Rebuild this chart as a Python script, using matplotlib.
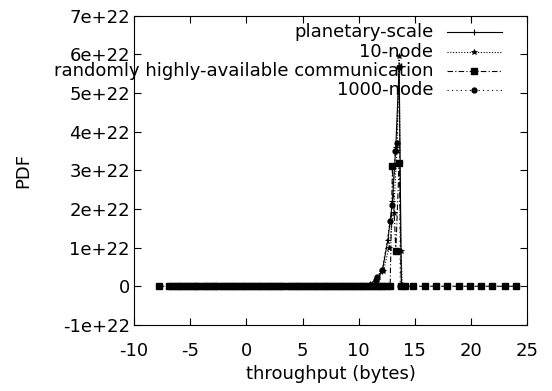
import matplotlib
matplotlib.use("Agg")
import matplotlib.pyplot as plt
from matplotlib.lines import Line2D
from matplotlib.ticker import FuncFormatter, MultipleLocator

plt.rcParams['font.family'] = ['DejaVu Sans']
plt.rcParams['axes.unicode_minus'] = False

# data (y in units of 1e22)
planet_x = [-6.5, -5.0, -3.5, -2.0, -0.5, 1.0, 2.5, 4.0, 5.5, 7.0, 8.5, 10.0, 11.0, 11.6, 12.1, 12.6, 13.0, 13.3, 13.6, 13.8]
planet_y = [0, 0, 0, 0, 0, 0, 0, 0, 0, 0, 0, 0, 0.05, 0.2, 0.4, 1.2, 2.2, 3.6, 5.66, 0]

node10_x = [-6.0, -4.5, -3.0, -1.5, 0.0, 1.5, 3.0, 4.5, 6.0, 7.5, 9.0, 10.5, 11.5, 12.2, 12.7, 13.1, 13.4, 13.6, 13.75, 13.9]
node10_y = [0, 0, 0, 0, 0, 0, 0, 0, 0, 0, 0, 0, 0.1, 0.4, 1.0, 1.9, 3.5, 5.95, 0.9, 0]

rand_x = [-7.8, -6.9, -6.6, -6.3, -6.0, -5.7, -5.4, -5.1, -4.8, -4.5, -4.3, -3.9, -3.6, -3.3,
          -3.0, -2.8, -2.4, -2.1, -1.8, -1.5, -1.2, -0.9, -0.6, -0.3, 0.0, 0.3, 0.6, 0.9, 1.2,
          1.5, 1.8, 2.1, 2.4, 2.7, 3.0, 3.3, 3.7, 4.0, 4.3, 4.6, 4.9, 5.2, 5.5, 5.8, 6.1, 6.4,
          6.7, 7.0, 7.3, 7.6, 7.9, 8.2, 8.5, 8.8, 9.1, 9.4, 9.7, 10.0, 10.3, 10.6, 10.9, 11.2,
          11.5, 11.8, 12.1, 12.4, 12.8, 13.0, 13.3, 13.6, 13.8, 14.1, 14.85, 15.9, 16.9, 17.9,
          18.9, 19.9, 20.9, 21.9, 23.0, 24.0]
rand_y = [0, 0, 0, 0, 0, 0, 0, 0, 0, 0, 0, 0, 0, 0,
          0, 0, 0, 0, 0, 0, 0, 0, 0, 0, 0, 0, 0, 0, 0,
          0, 0, 0, 0, 0, 0, 0, 0, 0, 0, 0, 0, 0, 0, 0, 0, 0,
          0, 0, 0, 0, 0, 0, 0, 0, 0, 0, 0, 0, 0, 0, 0, 0,
          0, 0, 0, 0, 0, 3.1, 0.9, 3.2, 0, 0, 0, 0, 0, 0,
          0, 0, 0, 0, 0, 0]

node1000_x = [-5.5, -4.0, -2.5, -1.0, 0.5, 2.0, 3.5, 5.0, 6.5, 8.0, 9.5, 10.5, 11.0, 11.5, 11.6, 12.1, 12.8, 13.0, 13.25, 13.4, 13.6, 13.7]
node1000_y = [0, 0, 0, 0, 0, 0, 0, 0, 0, 0, 0, 0, 0.03, 0.15, 0.24, 0.42, 1.7, 2.1, 3.5, 3.7, 5.66, 0]

labels = ['planetary-scale', '10-node', 'randomly highly-available communication', '1000-node']

fig = plt.figure(figsize=(5.52, 3.91), dpi=100)
ax = fig.add_axes([0.243, 0.169, 0.712, 0.791])

u = 1e22
styles = [
    dict(ls='-', marker='+', ms=5, mew=0.8),
    dict(ls=(0, (1, 1.5)), marker='*', ms=4, mew=0.5),
    dict(ls=(0, (5, 2, 1, 2)), marker='s', ms=4),
    dict(ls=(0, (1, 3)), marker='o', ms=3.5),
]
series = [(planet_x, planet_y), (node10_x, node10_y), (rand_x, rand_y), (node1000_x, node1000_y)]
for (xs, ys), st in zip(series, styles):
    ax.plot(xs, [v * u for v in ys], color='black', lw=0.8, **st)

ax.set_xlim(-10, 25)
ax.set_ylim(-1e22, 7e22)
ax.xaxis.set_major_locator(MultipleLocator(5))
ax.yaxis.set_major_locator(MultipleLocator(1e22))
ax.yaxis.set_major_formatter(FuncFormatter(lambda v, p: '0' if abs(v) < 1e10 else f'{v:.0e}'))
ax.tick_params(direction='in', top=True, right=True, length=5, width=0.8, labelsize=13)
ax.tick_params(axis='y', pad=3)
ax.tick_params(axis='x', pad=12)
for s in ax.spines.values():
    s.set_linewidth(0.8)

ax.set_xlabel('throughput (bytes)', fontsize=13, labelpad=4)
ax.set_ylabel('PDF', fontsize=13, labelpad=22)

# gnuplot style key: label right-aligned, sample to its right
rows = [0.947, 0.882, 0.821, 0.760]
for lab, st, yy in zip(labels, styles, rows):
    ax.text(0.761, yy, lab, transform=ax.transAxes, ha='right', va='center', fontsize=13)
    ax.add_line(Line2D([0.796, 0.936], [yy, yy], transform=ax.transAxes, color='black',
                       lw=0.8, ls=st['ls'], clip_on=False))
    mk = {k: v for k, v in st.items() if k != 'ls'}
    ax.add_line(Line2D([0.865], [yy], transform=ax.transAxes, color='black', ls='none',
                       clip_on=False, **mk))

fig.savefig('out.png', dpi=100)
